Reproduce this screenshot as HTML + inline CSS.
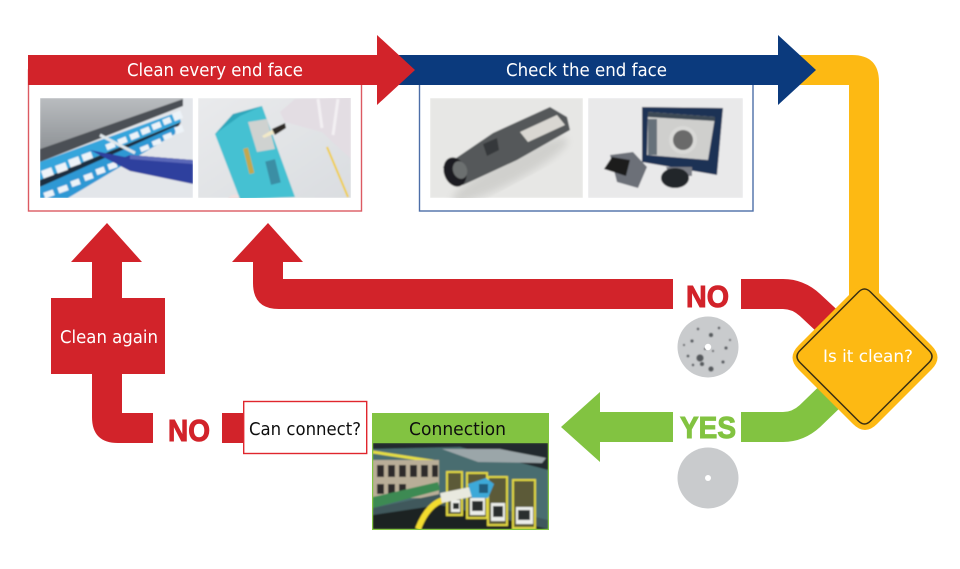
<!DOCTYPE html>
<html><head><meta charset="utf-8"><style>
html,body{margin:0;padding:0;background:#fff;width:960px;height:569px;overflow:hidden}
svg{display:block}
.d{font-family:"DejaVu Sans",sans-serif}
.l{font-family:"Liberation Sans",sans-serif}
</style></head><body>
<svg width="960" height="569" viewBox="0 0 960 569" xmlns="http://www.w3.org/2000/svg">
<defs>
<filter id="b"><feGaussianBlur stdDeviation="0.7"/></filter>
<filter id="t"><feGaussianBlur stdDeviation="0.25"/></filter>
<filter id="b4"><feGaussianBlur stdDeviation="4"/></filter>
<clipPath id="c1"><rect x="40" y="98" width="153" height="100"/></clipPath>
<clipPath id="c2"><rect x="198" y="98" width="153" height="100"/></clipPath>
<clipPath id="c3"><rect x="430" y="98" width="153" height="100"/></clipPath>
<clipPath id="c4"><rect x="588" y="98" width="155" height="100"/></clipPath>
<clipPath id="c5"><rect x="373" y="443" width="175" height="86"/></clipPath>
<linearGradient id="g1" x1="0" y1="0" x2="0" y2="1"><stop offset="0" stop-color="#b9bcbf"/><stop offset="1" stop-color="#8f9397"/></linearGradient>
<linearGradient id="g2" x1="0" y1="0" x2="1" y2="1"><stop offset="0" stop-color="#e9eaec"/><stop offset="1" stop-color="#dadde0"/></linearGradient>
</defs>

<!-- yellow path -->
<path d="M800 55H852Q879 55 879 82V310H849V85H800Z" fill="#fdb913"/>
<!-- red feedback -->
<path d="M741 294H783Q798 294 810 305L840 333" fill="none" stroke="#d2232a" stroke-width="30"/>
<path d="M673 279V309H279Q253 309 253 283V262H232L268 223L303 262H283V279Z" fill="#d2232a"/>
<!-- green -->
<path d="M741 427H783Q798 427 810 416L840 387" fill="none" stroke="#82c341" stroke-width="30"/>
<path d="M561 427L600 392V412H673V442H600V462Z" fill="#82c341"/>

<!-- left red -->
<path d="M107 223L142 262H122V298H165V374H122V413H153V443H118Q92 443 92 417V374H51V298H92V262H71Z" fill="#d2232a"/>
<rect x="222" y="413" width="24" height="30" fill="#d2232a"/>

<!-- boxes -->
<rect x="28.500" y="70" width="333" height="141" fill="#fff" stroke="#dc5a62" stroke-width="1.400"/>
<rect x="419.500" y="70" width="333.500" height="141" fill="#fff" stroke="#4d6ea8" stroke-width="1.400"/>

<!-- blue arrow -->
<path d="M395 55H778V35L816 70L778 105V85H395Z" fill="#0b3a7d"/>
<!-- red arrow -->
<path d="M28 55H377V35L415 70L377 105V85H28Z" fill="#d2232a"/>

<!-- image 1 -->
<g clip-path="url(#c1)"><g filter="url(#b)">
<rect x="40" y="98" width="153" height="100" fill="#e3e6ea"/>
<path d="M40 98H183V99L40 149Z" fill="url(#g1)"/>
<path d="M40 149L183 99V106L40 162Z" fill="#4b4f54"/>
<path d="M40 162L178 112L181 122L40 180Z" fill="#35a5dc"/>
<path d="M40 180L181 122L178 127L40 187Z" fill="#1d2f40"/>
<path d="M40 187L176 126L175 134L68 198H40Z" fill="#2e98d4"/>
<g fill="#edf3f8">
<rect x="42" y="169" width="11" height="8" transform="rotate(-20 47 173)"/><rect x="56" y="164" width="11" height="8" transform="rotate(-20 61 168)"/><rect x="69" y="158" width="11" height="8" transform="rotate(-20 74 162)"/><rect x="82" y="153" width="10" height="7" transform="rotate(-20 87 156)"/>
<rect x="106" y="143" width="9" height="6" transform="rotate(-22 110 146)"/><rect x="118" y="138" width="9" height="6" transform="rotate(-22 122 141)"/><rect x="130" y="133" width="9" height="6" transform="rotate(-22 134 136)"/><rect x="141" y="128" width="9" height="6" transform="rotate(-22 145 131)"/><rect x="152" y="123" width="9" height="6" transform="rotate(-22 156 126)"/><rect x="163" y="118" width="8" height="6" transform="rotate(-22 167 121)"/><rect x="173" y="112" width="9" height="8" transform="rotate(-22 177 116)"/>
<rect x="44" y="191" width="10" height="6" transform="rotate(-20 49 194)"/><rect x="58" y="186" width="10" height="6" transform="rotate(-20 63 189)"/><rect x="71" y="180" width="9" height="6" transform="rotate(-20 75 183)"/><rect x="84" y="174" width="9" height="6" transform="rotate(-20 88 177)"/><rect x="96" y="168" width="9" height="6" transform="rotate(-20 100 171)"/><rect x="108" y="163" width="9" height="6" transform="rotate(-20 112 166)"/><rect x="140" y="146" width="9" height="5" transform="rotate(-22 144 148)"/><rect x="152" y="140" width="9" height="5" transform="rotate(-22 156 142)"/><rect x="163" y="134" width="9" height="5" transform="rotate(-22 167 136)"/><rect x="175" y="126" width="8" height="7" transform="rotate(-22 179 129)"/>
</g>
<path d="M100 135L135 153" stroke="#dfe6ea" stroke-width="3"/>
<path d="M90 150L125 157L130 155L193 160V184L130 171Z" fill="#2f3f9e"/>
<path d="M130 155L193 160V164L130 159Z" fill="#5a68b8"/>
</g></g>

<!-- image 2 -->
<g clip-path="url(#c2)"><g filter="url(#b)">
<rect x="198" y="98" width="153" height="100" fill="url(#g2)"/>
<path d="M280 112L295 99L351 97V159L322 132L285 122Z" fill="#e3dde3"/>
<path d="M318 99L322 128M338 99L333 135" stroke="#f3f0f3" stroke-width="3"/>
<path d="M327 147L348 197" stroke="#f0cd3c" stroke-width="2"/>
<path d="M228 199Q234 190 245 199Z" fill="#f0dfe0"/>
<path d="M215 134L233 114L262 106L295 197L240 199Z" fill="#45c1d2"/>
<path d="M215 134L233 114L262 106L240 116Z" fill="#2fa7bb"/>
<path d="M248 122L267 119L275 149L257 152Z" fill="#cfd2d0"/>
<path d="M262 136L272 130L276 133L264 138Z" fill="#f2e9c8"/>
<path d="M272 129L285 123L286 128L275 135Z" fill="#2d2a28"/>
<rect x="246" y="148" width="5" height="26" transform="rotate(-14 248 160)" fill="#c3a84e"/>
<rect x="268" y="160" width="10" height="24" transform="rotate(-14 273 172)" fill="#3b8ea4"/>
</g></g>

<!-- image 3 -->
<g clip-path="url(#c3)"><g filter="url(#b)">
<rect x="430" y="98" width="153" height="100" fill="#e7e7e5"/>
<ellipse cx="510" cy="170" rx="65" ry="12" fill="#d0d0cd" filter="url(#b4)" transform="rotate(-28 510 170)"/>
<path d="M443 167L493 133L550 107L567 117L570 130L517 160L463 185L450 183Z" fill="#55585a"/>
<path d="M520 132L557 115L565 125L528 142Z" fill="#d9d7d2"/>
<path d="M483 144L497 138L499 150L487 156Z" fill="#36393b"/>
<ellipse cx="455" cy="172" rx="11" ry="15" fill="#1d1f20" transform="rotate(-20 455 172)"/>
<ellipse cx="460" cy="170" rx="7" ry="9" fill="#6c6f70" transform="rotate(-20 460 170)"/>
</g></g>

<!-- image 4 -->
<g clip-path="url(#c4)"><g filter="url(#b)">
<rect x="588" y="98" width="155" height="100" fill="#e9e9ea"/>
<path d="M642 107L723 108L717 175L642 162Z" fill="#1c3155"/>
<path d="M648 112L715 117L708 160L647 155Z" fill="#cfcfcd"/>
<path d="M648 112L715 117V121L648 117Z" fill="#3c4a55"/>
<rect x="648" y="119" width="9" height="36" fill="#66717a"/>
<circle cx="683" cy="140" r="14" fill="#d9d9d7"/>
<circle cx="683" cy="140" r="10" fill="#6a6b6a"/>
<path d="M666 167H692V176L670 176Z" fill="#7a7d85"/>
<ellipse cx="675" cy="178" rx="14" ry="10" fill="#22252a"/>
<path d="M610 155L633 152L647 167L638 188L617 182Z" fill="#6c7078"/>
<path d="M604 169L612 157L630 160L626 176Z" fill="#1a1c1f"/>
</g></g>

<!-- Connection -->
<rect x="372" y="413" width="177" height="117" fill="#82c341"/>
<g clip-path="url(#c5)"><g filter="url(#b)">
<rect x="373" y="443" width="175" height="86" fill="#212b2f"/>
<path d="M373 449L460 447L548 470V529H373Z" fill="#4a6d70"/>
<path d="M442 449H500L546 458L542 463L478 462Z" fill="#9ba6a9"/>
<path d="M373 452L438 462" stroke="#e6de43" stroke-width="3"/>
<rect x="373" y="460" width="66" height="38" fill="#b9ae98"/>
<g fill="#2d2c2a"><rect x="377" y="465" width="7" height="12"/><rect x="388" y="465" width="7" height="12"/><rect x="399" y="465" width="7" height="12"/><rect x="410" y="465" width="7" height="12"/><rect x="421" y="465" width="7" height="12"/><rect x="432" y="465" width="6" height="12"/><rect x="377" y="484" width="7" height="10"/><rect x="388" y="484" width="7" height="10"/><rect x="399" y="484" width="7" height="10"/></g>
<path d="M373 497L438 482L440 490L373 508Z" fill="#3d8a52"/>
<path d="M373 508L440 494L548 520V529H373Z" fill="#3f595c"/>
<path d="M373 515L440 505L548 529H373Z" fill="#1a2022"/>
<g fill="#5b5a38" stroke="#e0d63f" stroke-width="2"><rect x="447" y="472" width="15" height="43"/><rect x="467" y="473" width="20" height="45"/><rect x="488" y="477" width="19" height="48"/><rect x="513" y="480" width="22" height="48"/></g>
<g fill="#eceeea"><rect x="451" y="500" width="9" height="12"/><rect x="470" y="498" width="15" height="17"/><rect x="491" y="503" width="14" height="18"/><rect x="516" y="507" width="17" height="17"/></g>
<g fill="#2a2d2e"><rect x="453" y="503" width="6" height="6"/><rect x="472" y="501" width="11" height="10"/><rect x="493" y="506" width="10" height="11"/><rect x="518" y="510" width="12" height="10"/></g>
<path d="M418 529Q428 503 446 499" fill="none" stroke="#f3dc2e" stroke-width="6"/>
<path d="M441 498L480 490" stroke="#e9e9df" stroke-width="10"/>
<path d="M468 484L486 478L494 484L488 498L472 498Z" fill="#3ca9d8"/>
<rect x="479" y="484" width="9" height="9" fill="#205b7c"/>
</g></g>

<!-- Can connect -->
<rect x="243.700" y="401.500" width="123" height="52" fill="#fff" stroke="#e0262d" stroke-width="1.400"/>

<!-- diamond -->
<path d="M853 291Q865 279 877 291L931.500 345.500Q943.500 357.500 931.500 369.500L877 424Q865 436 853 424L798.500 369.500Q786.500 357.500 798.500 345.500Z" fill="#fdb913"/>
<path d="M858.500 292Q864.500 286 870.500 292L929 350.500Q935 356.500 929 362.500L870.500 421Q864.500 427 858.500 421L800 362.500Q794 356.500 800 350.500Z" fill="none" stroke="#3a2f12" stroke-width="1.500"/>

<!-- circles -->
<circle cx="708" cy="347" r="30.500" fill="#c9cbcd"/>
<g fill="#55585c" filter="url(#b)">
<circle cx="700" cy="358" r="3.500"/><circle cx="702" cy="364" r="2"/><circle cx="711" cy="369" r="2.500"/><circle cx="711" cy="335" r="2"/><circle cx="692" cy="341" r="1.500"/><circle cx="726" cy="348" r="1.500"/><circle cx="723" cy="362" r="1.500"/><circle cx="688" cy="356" r="1.300"/><circle cx="698" cy="329" r="1.200"/><circle cx="719" cy="328" r="1.200"/><circle cx="693" cy="365" r="1.200"/><circle cx="730" cy="340" r="1"/><circle cx="705" cy="349" r="1"/><circle cx="713" cy="351" r="1"/><circle cx="684" cy="345" r="1"/>
</g>
<circle cx="708" cy="347" r="3.200" fill="#fff"/>
<circle cx="708" cy="478" r="30.500" fill="#c9cbcd"/>
<circle cx="708" cy="478" r="3" fill="#fff"/>

<!-- labels -->
<g font-size="18" fill="#fff" filter="url(#t)">
<text class="d" x="127" y="76" textLength="176" lengthAdjust="spacingAndGlyphs">Clean every end face</text>
<text class="d" x="506" y="76" textLength="161" lengthAdjust="spacingAndGlyphs">Check the end face</text>
<text class="d" x="60" y="343" textLength="98" lengthAdjust="spacingAndGlyphs">Clean again</text>
<text class="d" x="823" y="362" font-size="16.500" textLength="90" lengthAdjust="spacingAndGlyphs">Is it clean?</text>
</g>
<g filter="url(#t)">
<text class="d" x="249" y="435" font-size="18" fill="#111" textLength="112" lengthAdjust="spacingAndGlyphs">Can connect?</text>
<text class="d" x="409" y="435" font-size="18" fill="#111" textLength="97" lengthAdjust="spacingAndGlyphs">Connection</text>
</g>
<g font-weight="bold" font-size="31">
<text class="l" x="686" y="307" fill="#d2232a" stroke="#d2232a" stroke-width="1" textLength="43" lengthAdjust="spacingAndGlyphs">NO</text>
<text class="l" x="168" y="441" fill="#d2232a" stroke="#d2232a" stroke-width="1" textLength="42" lengthAdjust="spacingAndGlyphs">NO</text>
<text class="l" x="680" y="438" fill="#82c341" stroke="#82c341" stroke-width="1" textLength="56" lengthAdjust="spacingAndGlyphs">YES</text>
</g>
</svg>
</body></html>
